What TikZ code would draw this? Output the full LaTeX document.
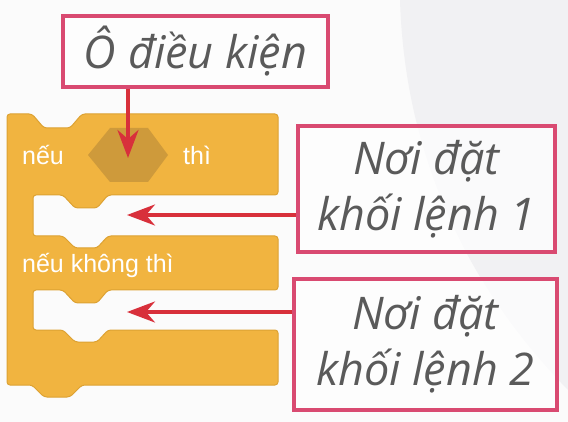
\documentclass[tikz,border=0pt]{standalone}
\usepackage{fontspec}
\usepackage{xcolor}
\usetikzlibrary{arrows.meta}
\newfontfamily\labelfont{Open Sans}
\newfontfamily\blockfont{Liberation Sans}
\definecolor{blockfill}{HTML}{F1B440}
\definecolor{blockline}{HTML}{DDA233}
\definecolor{slotfill}{HTML}{CE9A3B}
\definecolor{boxline}{HTML}{D94A71}
\definecolor{arrowred}{HTML}{D8303B}
\definecolor{labelgray}{HTML}{5A5A5A}
\definecolor{bggray}{HTML}{F1F1F3}

\begin{document}
\begin{tikzpicture}[x=1pt, y=-1pt,
    labelbox/.style={draw=boxline, line width=4pt, fill=white, fill opacity=0.7, text opacity=1,
        text=labelgray, align=center, inner sep=0pt,
        font=\labelfont\itshape\fontsize{45}{56}\selectfont},
    blocktext/.style={text=white, anchor=base west, inner sep=0pt,
        font=\blockfont\fontsize{25}{30}\selectfont},
    pointer/.style={arrowred, line width=3.5pt,
        -{Stealth[length=28pt, width=21pt, inset=9pt]}}]
    \useasboundingbox (0,0) rectangle (568,422);
    \fill[white!97!gray] (0,0) rectangle (568,422);
    \fill[bggray] (400,0) .. controls (405,160) and (470,290) .. (568,390) -- (568,0) -- cycle;
    \draw[blockline, fill=blockfill, line width=1pt, rounded corners=3pt]
        (7,114) -- (32,114) -- (44,128) -- (70,128) -- (82,114)
        -- (278,114) -- (278,195)
        -- (108,195) -- (97,208) -- (75,208) -- (63,195)
        -- (33,195) -- (33,236)
        -- (63,236) -- (75,248) -- (97,248) -- (108,236)
        -- (278,236) -- (278,290)
        -- (108,290) -- (97,303) -- (75,303) -- (63,290)
        -- (33,290) -- (33,330)
        -- (63,330) -- (75,342) -- (97,342) -- (108,330)
        -- (278,330) -- (278,385)
        -- (82,385) -- (70,397) -- (44,397) -- (32,385)
        -- (7,385) -- cycle;
    \fill[slotfill] (88,155) -- (110,128) -- (148,128) -- (168,155) -- (148,182) -- (110,182) -- cycle;
    \node[blocktext] (if) at (22,165) {nếu};
    \node[blocktext] (then) at (183,165) {thì};
    \node[blocktext] (else) at (22,273) {nếu không thì};
    \node[labelbox, minimum width=265pt, minimum height=71pt] (cond) at (195.5,51.5) {Ô điều kiện};
    \node[labelbox, minimum width=257pt, minimum height=126pt] (place1) at (426.5,189) {Nơi đặt\\khối lệnh 1};
    \node[labelbox, minimum width=263pt, minimum height=131pt] (place2) at (425.5,344.5) {Nơi đặt\\khối lệnh 2};
    \coordinate (slot) at (128,158);
    \coordinate (mouth1) at (127,215);
    \coordinate (mouth2) at (127,312);
    \draw[pointer] (cond.south -| slot) -- (slot);
    \draw[pointer] (place1.west |- mouth1) -- (mouth1);
    \draw[pointer] (place2.west |- mouth2) -- (mouth2);
\end{tikzpicture}
\end{document}
